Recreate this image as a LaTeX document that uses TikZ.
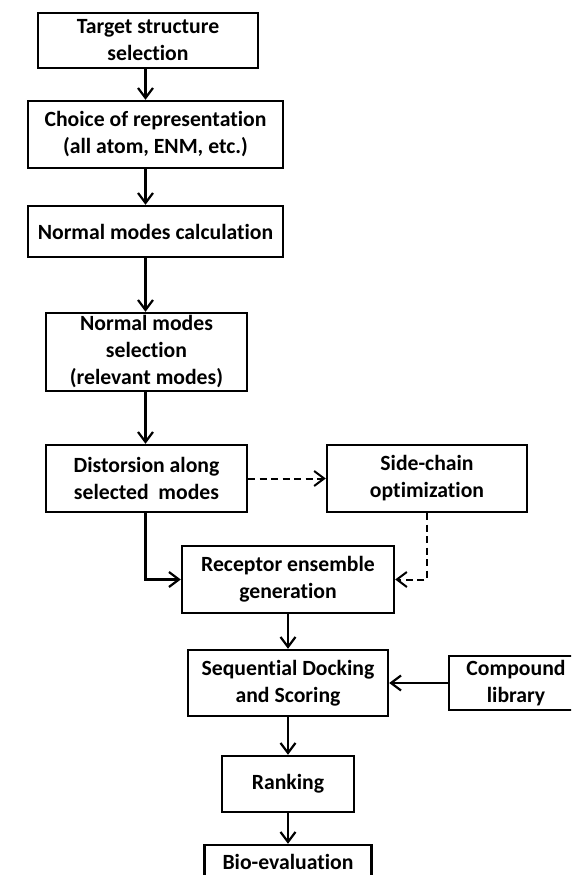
\documentclass[tikz,border=0pt]{standalone}
\usepackage{fontspec}
\setmainfont{Carlito}[Ligatures=NoCommon]
\usetikzlibrary{arrows.meta}

\tikzset{
  box/.style={draw, line width=2.4pt, inner sep=0pt, align=center,
    font=\fontsize{21.7}{27}\selectfont\bfseries},
  link/.style={line width=2.2pt, -{Straight Barb[length=10pt,width=15pt]}},
  optlink/.style={link, line width=2pt, dash pattern=on 7pt off 4.5pt},
}

\begin{document}
\begin{tikzpicture}[x=1pt,y=-1pt]

  %--- Page ---
  \useasboundingbox (0,0) rectangle (571,875);
  \clip (0,0) rectangle (571,875);

  \def\colA{145.5} % upper column of arrows
  \def\colB{288}   % lower column
  \coordinate (colA) at (\colA,0);

  %--- Upper column ---
  \node[box, minimum width=220, minimum height=55] (target) at (148,40.5) {Target structure\\selection};
  \node[box, minimum width=255, minimum height=67] (repr) at (155.5,134.5) {Choice of representation\\(all atom, ENM, etc.)};
  \node[box, minimum width=255, minimum height=51] (calc) at (155.5,231.5) {Normal modes calculation};
  \node[box, minimum width=201, minimum height=78] (select) at (146.5,352) {Normal modes\\selection\\(relevant modes)};
  \node[box, minimum width=201, minimum height=67] (distort) at (146.5,478.5) {Distorsion along\\selected\ \ modes};
  \node[box, minimum width=200, minimum height=67] (sidechain) at (427,478.5) {Side-chain\\optimization};

  %--- Lower column ---
  \node[box, minimum width=212, minimum height=67] (ensemble) at (\colB,579.5) {Receptor ensemble\\generation};
  \node[box, minimum width=200, minimum height=66] (docking) at (\colB,683) {Sequential Docking\\and Scoring};
  \node[box, minimum width=134, minimum height=54] (compound) at (516,683) {Compound\\library};
  \node[box, minimum width=132, minimum height=56] (ranking) at (\colB,784) {Ranking};
  \node[box, minimum width=167, minimum height=34] (bioeval) at (\colB,862) {Bio-evaluation};

  %--- Arrows ---
  \foreach \a/\b in {target/repr, repr/calc, calc/select, select/distort}
    \draw[link] (\a.south -| colA) -- (\b.north -| colA);
  \draw[link] (distort.south -| colA) |- (ensemble.west);
  \draw[optlink] (distort.east) -- (sidechain.west);
  \draw[optlink] (sidechain.south) |- (ensemble.east);
  \foreach \a/\b in {ensemble/docking, docking/ranking, ranking/bioeval}
    \draw[link] (\a.south) -- (\b.north);
  \draw[link] (compound.west) -- (docking.east);

\end{tikzpicture}
\end{document}
